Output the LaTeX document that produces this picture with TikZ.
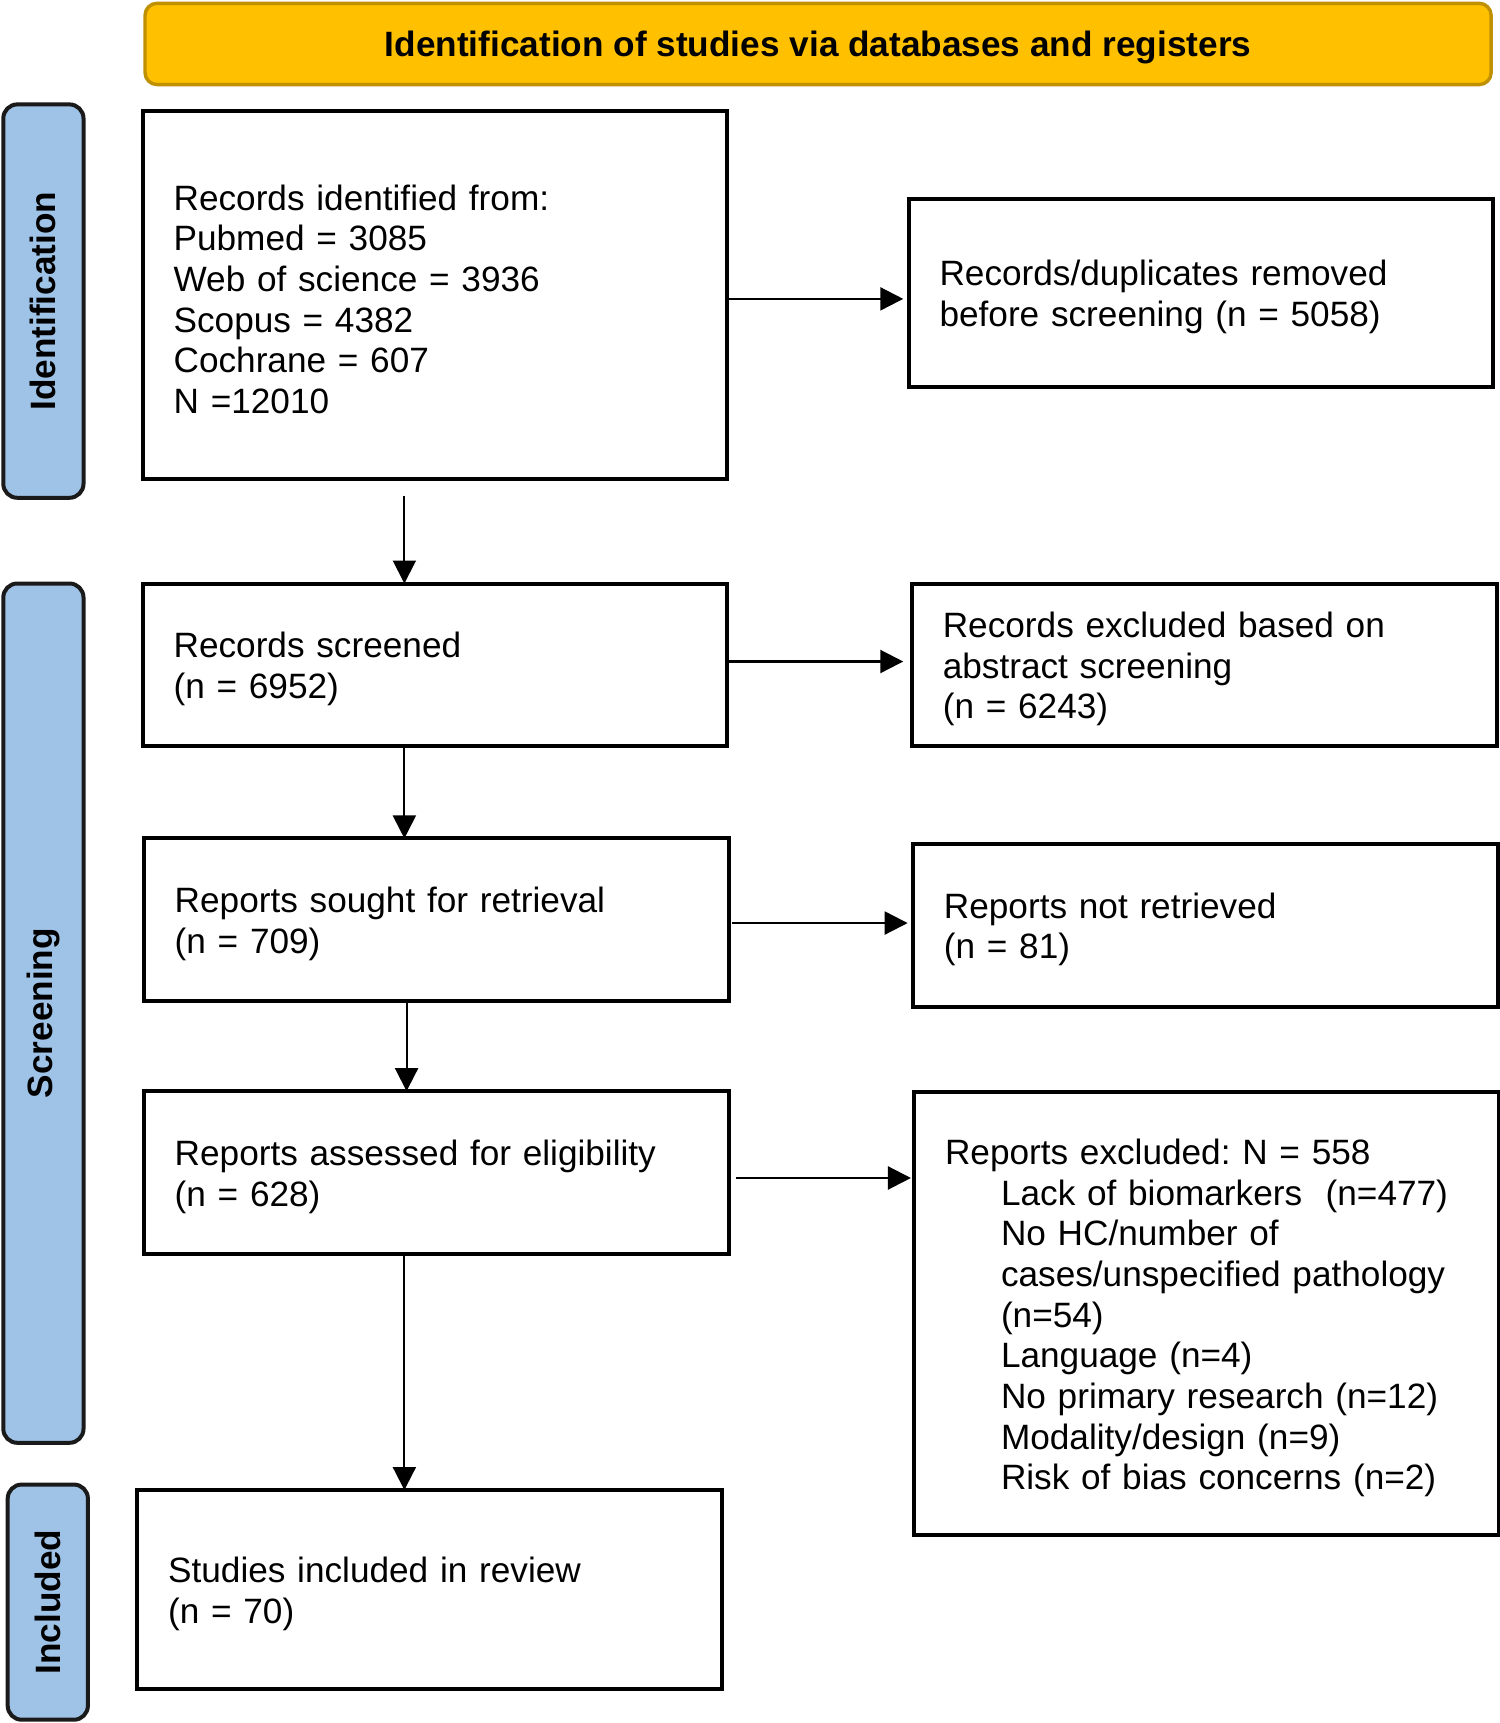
\documentclass[tikz,border=0pt]{standalone}
\usepackage{fontspec}
\setmainfont{Liberation Sans}
\usetikzlibrary{arrows.meta,calc}
\definecolor{titlefill}{HTML}{FFC000}
\definecolor{titledraw}{HTML}{BF9000}
\definecolor{sidefill}{HTML}{9FC3E7}
\definecolor{sidedraw}{HTML}{1A1A1A}
\newcommand\dpx{0.5495pt}
\newcommand\fs{\fontsize{17.6pt}{20.33pt}\selectfont\frenchspacing}
\begin{document}
\begin{tikzpicture}[x=0.5495pt,y=-0.5495pt,
  box/.style={draw=black, line width=2pt, fill=white, anchor=north west,
    align=left, inner xsep=15.39pt, inner ysep=0pt, outer sep=0pt,
    minimum width=292.33pt, text width=261.56pt, font=\fs,
    execute at begin node={\rule{0pt}{17pt}}},
  sidebar/.style={draw=sidedraw, line width=2pt, fill=sidefill, rounded corners=7pt,
    rotate=90, inner sep=0pt, outer sep=0pt, font=\fs\bfseries},
  titlebox/.style={draw=titledraw, line width=1.7pt, fill=titlefill, rounded corners=6pt,
    inner sep=0pt, outer sep=0pt, font=\fs\bfseries, text height=12.6pt, text depth=0pt},
  arr/.style={line width=1.15pt, -{Triangle[length=11.5pt,width=11.5pt]}},
  arrv/.style={line width=1pt, -{Triangle[length=11.5pt,width=11.5pt]}}]
\useasboundingbox (0,0) rectangle (1365,1568);

% title
\node[titlebox, minimum width=1225*\dpx, minimum height=74*\dpx] (title) at (744.5,40)
  {Identification of studies via databases and registers};

% side bars
\node[sidebar, minimum width=358*\dpx, minimum height=73*\dpx] (sideid) at (39.5,274) {Identification};
\node[sidebar, minimum width=782*\dpx, minimum height=73*\dpx] (sidescr) at (39.5,922) {Screening};
\node[sidebar, minimum width=214*\dpx, minimum height=73*\dpx] (sideinc) at (43.5,1458) {Included};

% boxes
\node[box, minimum height=335*\dpx] (ident) at (130,101)
  {Records identified from:\\ Pubmed = 3085\\ Web of science = 3936\\ Scopus = 4382\\ Cochrane = 607\\ N =12010};
\node[box, minimum height=171*\dpx] (dup) at (827,181)
  {Records/duplicates removed\\ before screening (n = 5058)};
\node[box, minimum height=148*\dpx] (screened) at (130,531)
  {Records screened\\ (n = 6952)};
\node[box, minimum height=148*\dpx] (excl) at (830,531)
  {Records excluded based on\\ abstract screening\\ (n = 6243)};
\node[box, minimum height=148*\dpx] (sought) at (131,763)
  {Reports sought for retrieval\\ (n = 709)};
\node[box, minimum height=148*\dpx] (notret) at (831,768)
  {Reports not retrieved\\ (n = 81)};
\node[box, minimum height=148*\dpx] (assessed) at (131,993)
  {Reports assessed for eligibility\\ (n = 628)};
\node[box, minimum height=403*\dpx] (repexcl) at (832,994)
  {Reports excluded: N = 558\\
   \hspace*{28pt}Lack of biomarkers\ \ (n=477)\\
   \hspace*{28pt}No HC/number of\\
   \hspace*{28pt}cases/unspecified pathology\\
   \hspace*{28pt}(n=54)\\
   \hspace*{28pt}Language (n=4)\\
   \hspace*{28pt}No primary research (n=12)\\
   \hspace*{28pt}Modality/design (n=9)\\
   \hspace*{28pt}Risk of bias concerns (n=2)};
\node[box, minimum height=181*\dpx] (included) at (125,1356)
  {Studies included in review\\ (n = 70)};

% arrows
\draw[arrv] ($(ident.south west)+(238,15)$) -- ($(screened.north west)+(238,0)$);
\draw[arr, shorten >=2.75pt] ($(ident.north east)+(0,171)$) -- ($(dup.north west)+(0,91)$);
\draw[arrv] ($(screened.south west)+(238,0)$) -- ($(sought.north west)+(237,0)$);
\draw[arr, shorten >=4.4pt] ($(screened.north east)+(0,71)$) -- ($(excl.north west)+(0,71)$);
\draw[arrv] ($(sought.south west)+(239,0)$) -- ($(assessed.north west)+(239,0)$);
\draw[arr, shorten >=2.75pt] ($(sought.north east)+(3,77)$) -- ($(notret.north west)+(0,72)$);
\draw[arrv] ($(assessed.south west)+(237,0)$) -- ($(included.north west)+(243,0)$);
\draw[arr, shorten >=1.65pt] ($(assessed.north east)+(7,79)$) -- ($(repexcl.north west)+(0,78)$);
\end{tikzpicture}
\end{document}
